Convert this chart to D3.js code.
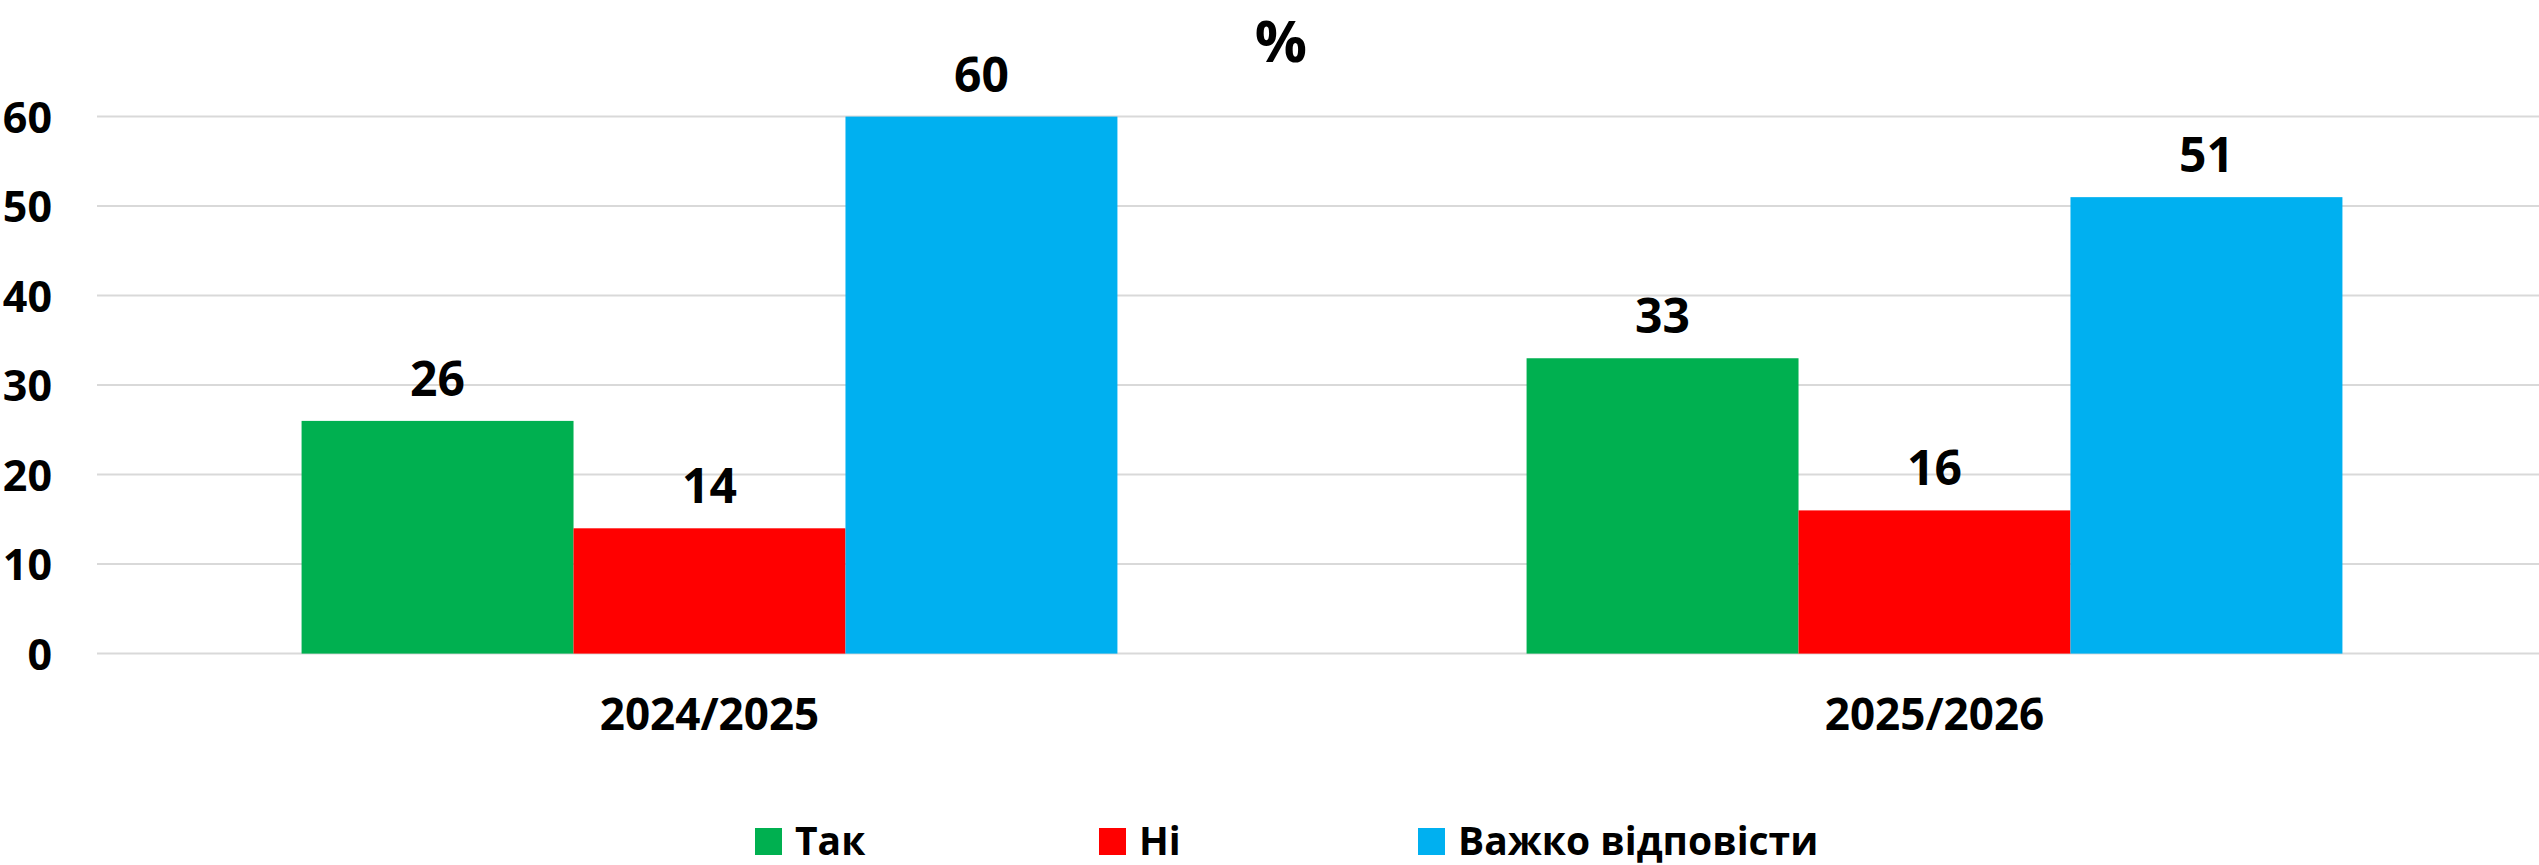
<!DOCTYPE html>
<html>
<head>
<meta charset="utf-8">
<script src="https://cdn.jsdelivr.net/npm/d3@7"></script>
<style>
  html, body { margin: 0; padding: 0; background: #fff; }
  svg text { font-family: 'Open Sans', 'Noto Sans', sans-serif; font-weight: 700; fill: #000; }
</style>
</head>
<body>
<div id="chart"></div>
<script>
// data
const years = ['2024/2025', '2025/2026'];
const answers = ['Так', 'Ні', 'Важко відповісти'];
const yesValues = [26, 33];
const noValues = [14, 16];
const hardValues = [60, 51];
const yTicks = [0, 10, 20, 30, 40, 50, 60];

const colors = ['#00B050', '#FF0000', '#00B0F0'];
const seriesValues = [yesValues, noValues, hardValues];

const width = 2539;
const height = 865;
const margin = { top: 117, right: 0, bottom: 212, left: 97 };
const plotBottom = height - margin.bottom + 0.6;

const svg = d3.select('#chart').append('svg')
  .attr('width', width)
  .attr('height', height);

const x0 = d3.scaleBand()
  .domain(years)
  .range([margin.left, 2547])
  .paddingInner(0.334)
  .paddingOuter(0.167);

const x1 = d3.scaleBand()
  .domain(answers)
  .range([0, x0.bandwidth()]);

const y = d3.scaleLinear()
  .domain([0, 60])
  .range([plotBottom, 116.6]);

// gridlines
svg.append('g')
  .selectAll('line')
  .data(yTicks)
  .join('line')
  .attr('x1', margin.left)
  .attr('x2', width)
  .attr('y1', d => y(d))
  .attr('y2', d => y(d))
  .attr('stroke', '#d9d9d9')
  .attr('stroke-width', 2);

// y labels
const yAxis = svg.append('g')
  .attr('transform', `translate(52, 0)`)
  .call(d3.axisLeft(y).tickValues(yTicks).tickSize(0).tickPadding(0));
yAxis.select('.domain').remove();
yAxis.selectAll('text')
  .attr('font-size', 43)
  .attr('dy', '0.36em')
  .style('font-family', "'Open Sans', 'Noto Sans', sans-serif")
  .style('font-weight', 700)
  .attr('fill', '#000');

// bars
const rows = years.map((yr, i) => ({
  year: yr,
  items: answers.map((a, j) => ({ answer: a, value: seriesValues[j][i], color: colors[j] }))
}));

const groups = svg.append('g')
  .selectAll('g')
  .data(rows)
  .join('g')
  .attr('transform', d => `translate(${x0(d.year)}, 0)`);

groups.selectAll('rect')
  .data(d => d.items)
  .join('rect')
  .attr('x', d => x1(d.answer))
  .attr('y', d => y(d.value))
  .attr('width', x1.bandwidth())
  .attr('height', d => y(0) - y(d.value))
  .attr('fill', d => d.color);

groups.selectAll('text.value')
  .data(d => d.items)
  .join('text')
  .attr('class', 'value')
  .attr('x', d => x1(d.answer) + x1.bandwidth() / 2)
  .attr('y', d => y(d.value) - 25)
  .attr('text-anchor', 'middle')
  .attr('font-size', 48)
  .text(d => d.value);

// category labels
svg.append('g')
  .selectAll('text')
  .data(years)
  .join('text')
  .attr('x', d => x0(d) + x0.bandwidth() / 2)
  .attr('y', 730)
  .attr('text-anchor', 'middle')
  .attr('font-size', 44)
  .text(d => d);

// title
svg.append('text')
  .attr('x', 1281)
  .attr('y', 62)
  .attr('text-anchor', 'middle')
  .attr('font-size', 58)
  .text('%');

// legend
const legendX = [755, 1099, 1418];
const legend = svg.append('g')
  .selectAll('g')
  .data(answers)
  .join('g')
  .attr('transform', (d, i) => `translate(${legendX[i]}, 828)`);

legend.append('rect')
  .attr('width', 27)
  .attr('height', 27)
  .attr('fill', (d, i) => colors[i]);

legend.append('text')
  .attr('x', 40)
  .attr('y', 27)
  .attr('font-size', 39)
  .text(d => d);
</script>
</body>
</html>
